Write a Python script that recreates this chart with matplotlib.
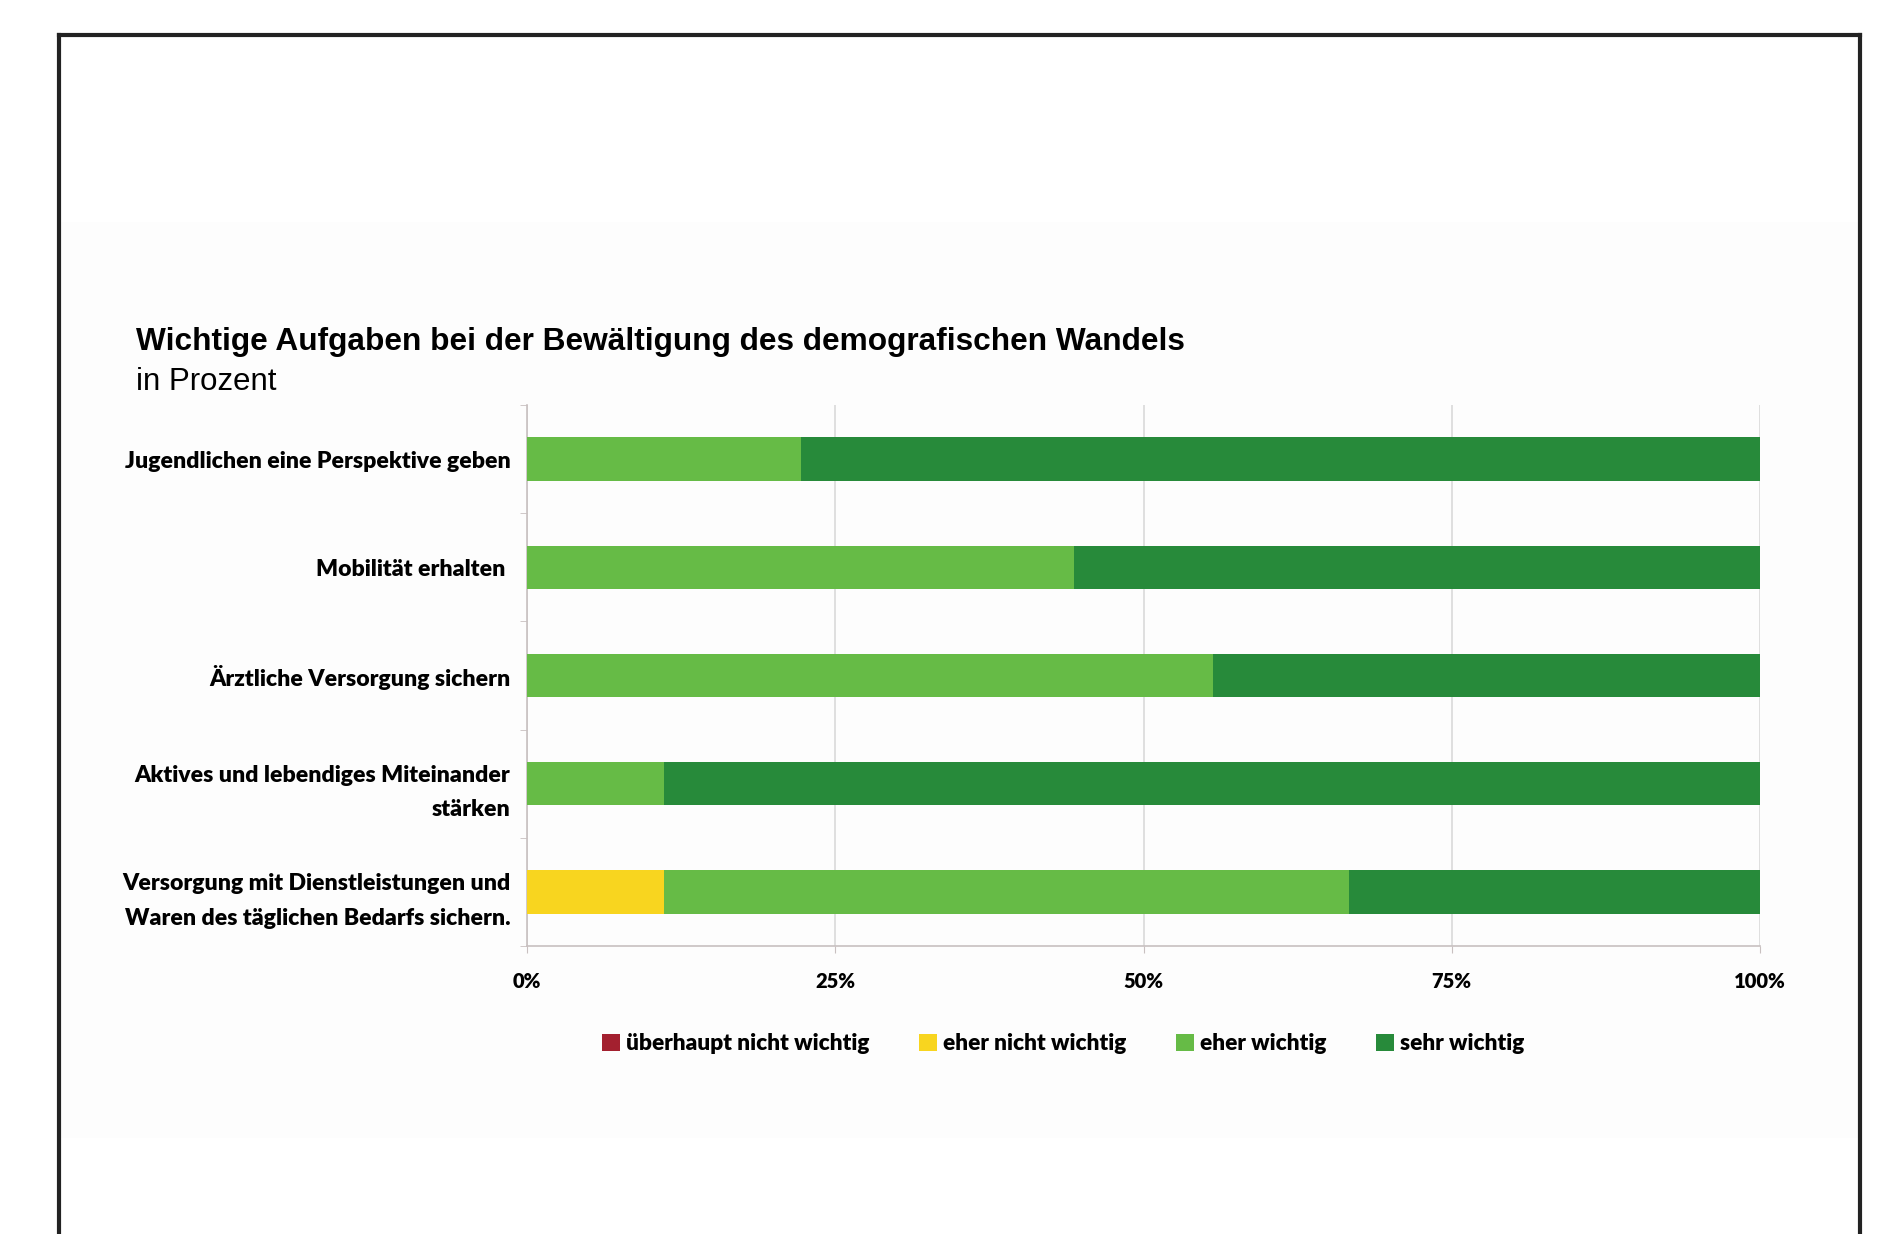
import matplotlib
matplotlib.use('Agg')
import matplotlib.pyplot as plt
from matplotlib.patches import Rectangle

# data (share of respondents, in percent)
categories = [
    'Jugendlichen eine Perspektive geben',
    'Mobilität erhalten ',
    'Ärztliche Versorgung sichern',
    'Aktives und lebendiges Miteinander\nstärken',
    'Versorgung mit Dienstleistungen und\nWaren des täglichen Bedarfs sichern.',
]
series_names = ['überhaupt nicht wichtig', 'eher nicht wichtig', 'eher wichtig', 'sehr wichtig']
ueberhaupt_nicht = [0.0, 0.0, 0.0, 0.0, 0.0]
eher_nicht = [0.0, 0.0, 0.0, 0.0, 11.1]
eher_wichtig = [22.2, 44.4, 55.6, 11.1, 55.6]
sehr_wichtig = [77.8, 55.6, 44.4, 88.9, 33.3]
x_ticks = [0, 25, 50, 75, 100]
x_tick_labels = ['0%', '25%', '50%', '75%', '100%']

colors = ['#a3202f', '#f8d51f', '#66bb46', '#278a3a']

W, H = 1882, 1234
fig = plt.figure(figsize=(W / 100, H / 100), dpi=100)
fig.patch.set_facecolor('white')

# faint grey panel behind the chart and black outer frame
fig.patches.append(Rectangle((61 / W, 1 - 1138 / H), (1858 - 61) / W, (1138 - 222) / H,
                             transform=fig.transFigure, facecolor='#fdfdfd', edgecolor='none', zorder=-5))
frame_kw = dict(transform=fig.transFigure, color='#222222', linewidth=3.0, zorder=5)
fig.add_artist(plt.Line2D([59 / W, 59 / W], [0, 1 - 35 / H], **frame_kw))
fig.add_artist(plt.Line2D([1860 / W, 1860 / W], [0, 1 - 35 / H], **frame_kw))
fig.add_artist(plt.Line2D([59 / W, 1860 / W], [1 - 35 / H, 1 - 35 / H], **frame_kw))

ax = fig.add_axes([527 / W, 1 - 946 / H, (1760 - 527) / W, (946 - 405) / H])
ax.set_facecolor('none')
ax.set_zorder(2)

y = list(range(len(categories)))
left = [0.0] * len(categories)
for name, vals, col in zip(series_names, [ueberhaupt_nicht, eher_nicht, eher_wichtig, sehr_wichtig], colors):
    ax.barh(y, vals, left=left, height=0.4, color=col, label=name, zorder=3)
    left = [l + v for l, v in zip(left, vals)]

ax.set_xlim(0, 100)
ax.set_ylim(len(categories) - 0.5, -0.5)
ax.set_xticks(x_ticks)
ax.set_xticklabels(x_tick_labels, fontsize=14.5, fontweight='heavy', family='Lato')
ax.set_yticks(y)
ax.set_yticklabels(categories, fontsize=16.6, fontweight='heavy', family='Lato', linespacing=1.8)
ax.set_yticks([i - 0.5 for i in range(len(categories) + 1)], minor=True)
ax.tick_params(axis='y', which='major', length=0, pad=12)
ax.tick_params(axis='y', which='minor', length=5, color='#c8c0c0', direction='out')
ax.tick_params(axis='x', length=5, color='#c8c0c0', pad=14)
ax.grid(axis='x', color='#d9d9d9', linewidth=1.2, zorder=0)
for s in ['top', 'right']:
    ax.spines[s].set_visible(False)
for s in ['left', 'bottom']:
    ax.spines[s].set_color('#c8c0c0')
    ax.spines[s].set_linewidth(1.2)

fig.text(136 / W, 1 - 342 / H, 'Wichtige Aufgaben bei der Bewältigung des demografischen Wandels',
         fontsize=22.8, fontweight='bold', family='Liberation Sans', va='center', ha='left')
fig.text(136 / W, 1 - 382 / H, 'in Prozent', fontsize=22.5, family='Liberation Sans',
         va='center', ha='left')

leg = fig.legend(loc='center', bbox_to_anchor=(1063 / W, 1 - 1044 / H), ncol=4, frameon=False,
                 prop={'family': 'Lato', 'weight': 'heavy', 'size': 16.3},
                 handlelength=0.8, handleheight=0.8, handletextpad=0.25, columnspacing=2.2)

fig.savefig('out.png', dpi=100)
